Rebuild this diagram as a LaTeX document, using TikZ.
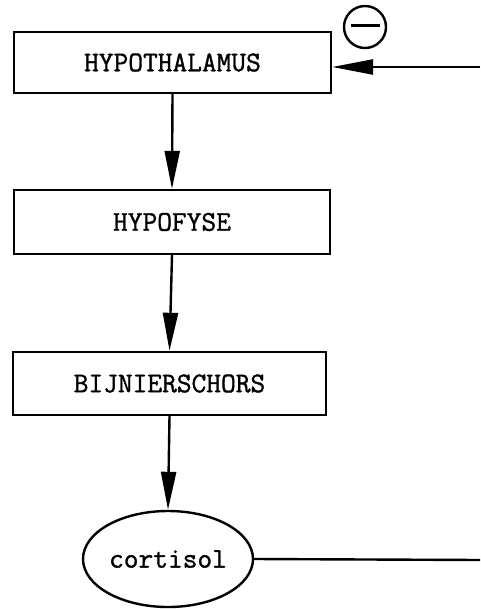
\documentclass[tikz,border=0pt]{standalone}
\usepackage{fontspec}
\usetikzlibrary{arrows.meta,shapes.geometric}
\newfontfamily\typew{Latin Modern Mono}[FakeBold=1.2]
\begin{document}
\begin{tikzpicture}[x=1pt,y=-1pt,
  lw/.style={line width=2.4pt},
  organ/.style={draw,lw,rectangle,inner sep=0pt,font=\fontsize{28.6}{30}\selectfont\typew},
  hormone/.style={draw,lw,ellipse,inner sep=0pt,font=\fontsize{28.6}{30}\selectfont\typew},
  signbox/.style={draw,lw,circle,inner sep=0pt,minimum size=42pt},
  flow/.style={lw,-{Triangle[length=38pt,width=15pt]}},
  back/.style={lw,-{Triangle[length=41pt,width=15pt]}}]
\useasboundingbox (0,0) rectangle (480,609);
\node[organ,minimum width=317pt,minimum height=61pt] (hth) at (172.5,62.5) {HYPOTHALAMUS};
\node[organ,minimum width=316pt,minimum height=64pt] (hyf) at (172,222) {HYPOFYSE};
\node[organ,minimum width=313pt,minimum height=63pt] (bij) at (169.5,383.5) {BIJNIERSCHORS};
\node[hormone,minimum width=170pt,minimum height=96pt] (cort) at (168,559) {cortisol};
\node[signbox] (minus) at (365,27) {\rule[0.25em]{29pt}{2.6pt}};
\coordinate (e1) at (480,67);
\coordinate (e2) at (480,560);
\draw[flow] (hth.south) -- (hyf.north);
\draw[flow] (hyf.south) -- (bij.north);
\draw[flow] (bij.south) -- (cort.north);
\draw[lw] (cort.east) -- (e2);
\draw[back] (e1) -- (hth.east |- e1);
\end{tikzpicture}
\end{document}
